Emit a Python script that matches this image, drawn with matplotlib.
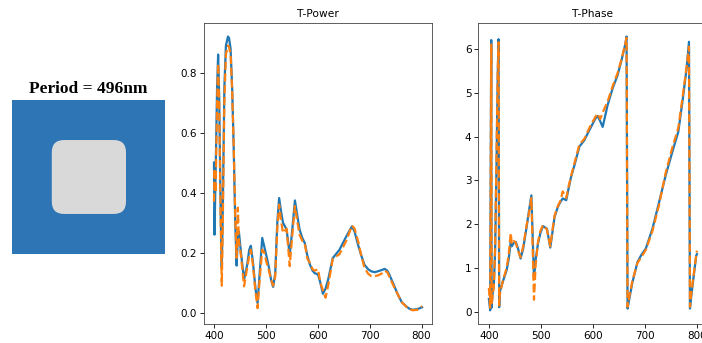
import numpy as np
import matplotlib
matplotlib.use('Agg')
import matplotlib.pyplot as plt
from matplotlib.patches import FancyBboxPatch

# wavelength (nm) / transmission power, blue = target, orange = predicted
power_x = [400, 401, 403, 406, 408, 410, 413, 415, 417, 420, 423, 427, 429, 432, 435, 438, 441,
           443.6, 446, 448, 452, 458, 464, 468, 471, 475, 480, 484, 488, 493, 497, 501, 506, 510,
           514, 518, 522, 525.6, 529, 533, 540, 546, 550, 556, 560, 565, 570, 575, 580, 585, 590,
           594, 600.6, 605, 610, 615, 620, 629, 642, 655, 666, 671, 677.5, 684, 690, 697, 703, 710,
           716, 723, 729, 734, 738, 746, 754.5, 762, 770.5, 777, 783, 792, 801]
power_true = [0.50, 0.26, 0.45, 0.75, 0.86, 0.72, 0.32, 0.15, 0.35, 0.75, 0.89, 0.92, 0.915, 0.88, 0.75,
              0.55, 0.30, 0.157, 0.25, 0.27, 0.20, 0.11, 0.16, 0.21, 0.223, 0.17, 0.08, 0.032, 0.13,
              0.249, 0.22, 0.19, 0.15, 0.11, 0.086, 0.13, 0.30, 0.382, 0.34, 0.30, 0.277, 0.193, 0.26,
              0.374, 0.33, 0.277, 0.25, 0.232, 0.19, 0.16, 0.14, 0.132, 0.127, 0.10, 0.063, 0.08, 0.11,
              0.182, 0.21, 0.254, 0.288, 0.27, 0.227, 0.19, 0.16, 0.145, 0.138, 0.135, 0.138, 0.142,
              0.146, 0.14, 0.127, 0.095, 0.06, 0.035, 0.021, 0.013, 0.01, 0.012, 0.018]
power_pred = [0.37, 0.48, 0.40, 0.70, 0.83, 0.70, 0.30, 0.09, 0.30, 0.70, 0.86, 0.89, 0.885, 0.86,
              0.74, 0.56, 0.32, 0.183, 0.35, 0.24, 0.19, 0.088, 0.15, 0.19, 0.21, 0.16, 0.07, 0.015,
              0.11, 0.21, 0.20, 0.17, 0.14, 0.11, 0.09, 0.12, 0.28, 0.36, 0.31, 0.266, 0.28, 0.155,
              0.24, 0.355, 0.31, 0.26, 0.24, 0.23, 0.18, 0.165, 0.145, 0.14, 0.145, 0.10, 0.075,
              0.05, 0.09, 0.18, 0.195, 0.24, 0.29, 0.28, 0.24, 0.19, 0.15, 0.13, 0.122, 0.122, 0.124,
              0.13, 0.14, 0.135, 0.12, 0.09, 0.06, 0.035, 0.02, 0.012, 0.008, 0.01, 0.022]

# wavelength (nm) / transmission phase (rad)
phase_x = [400, 402.5, 404.5, 405.2, 407, 409.6, 412, 414.7, 417, 418.6, 419.8, 421, 427, 434,
           438, 442, 444, 448, 451.7, 456, 461, 466, 472, 477, 481.7, 486.7, 490, 494.4, 499, 504,
           511.6, 518, 522, 526.3, 532.7, 538, 542, 548.7, 553, 558, 564.6, 574, 583.7, 593.3,
           604.8, 609, 614, 618.8, 628.3, 638, 647.5, 655.8, 662.2, 664.7, 666.6, 670, 676, 685.7,
           693, 701.8, 714.5, 727.3, 740, 752.7, 764.2, 773, 780.2, 784.7, 786.6, 789, 792.3,
           798.7, 800]
phase_true = [0.30, 0.04, 6.20, 0.10, 0.40, 0.65, 1.40, 3.40, 5.40, 6.22, 0.11, 0.46, 0.70, 0.95,
              1.20, 1.60, 1.50, 1.58, 1.60, 1.45, 1.22, 1.45, 1.90, 2.30, 2.66, 0.78, 1.20, 1.56,
              1.80, 1.96, 1.90, 1.47, 1.80, 2.17, 2.40, 2.52, 2.59, 2.55, 2.80, 3.08, 3.35, 3.77,
              3.92, 4.15, 4.41, 4.47, 4.35, 4.22, 4.72, 5.10, 5.40, 5.78, 6.10, 6.28, 0.08, 0.30,
              0.68, 1.14, 1.30, 1.45, 1.90, 2.51, 3.12, 3.65, 4.11, 4.87, 5.56, 6.16, 0.08, 0.35,
              0.68, 1.29, 1.32]
phase_pred = [0.55, 0.10, 6.10, 0.20, 0.35, 0.60, 1.50, 3.60, 5.50, 6.15, 0.15, 0.40, 0.72, 1.00,
              1.30, 1.80, 1.55, 1.62, 1.58, 1.40, 1.25, 1.50, 1.95, 2.25, 2.60, 0.28, 1.10, 1.60,
              1.85, 1.98, 1.88, 1.50, 1.85, 2.20, 2.42, 2.55, 2.75, 2.60, 2.85, 3.10, 3.40, 3.82,
              3.95, 4.20, 4.45, 4.52, 4.40, 4.55, 4.80, 5.15, 5.45, 5.80, 6.12, 6.25, 0.12, 0.35,
              0.72, 1.12, 1.25, 1.42, 1.85, 2.45, 3.18, 3.75, 4.20, 4.95, 5.60, 6.05, 0.12, 0.40,
              0.72, 1.30, 1.40]

period_nm = 496
blue = '#2e75b6'
grey = '#d9d9d9'

fig = plt.figure(figsize=(7.02, 3.43), dpi=100)

# unit cell picture
ax0 = fig.add_axes([0.0171, 0.2595, 0.218, 0.449])
ax0.set_xlim(0, 1)
ax0.set_ylim(0, 1)
ax0.add_patch(plt.Rectangle((0, 0), 1, 1, color=blue))
ax0.add_patch(FancyBboxPatch((0.32, 0.32), 0.365, 0.36,
                             boxstyle='round,pad=0.06,rounding_size=0.08',
                             facecolor=grey, edgecolor='none'))
ax0.axis('off')
ax0.set_title(f'Period = {period_nm}nm', family='Liberation Serif', fontweight='bold',
              fontsize=12.5, pad=5)

ax1 = fig.add_axes([0.290, 0.0554, 0.326, 0.878])
ax1.plot(power_x, power_true, color='C0', lw=1.6)
ax1.plot(power_x, power_pred, color='C1', lw=1.6, ls='--')
ax1.set_title('T-Power', fontsize=7.7, pad=4)
ax1.set_yticks([0.0, 0.2, 0.4, 0.6, 0.8])

ax2 = fig.add_axes([0.6816, 0.0554, 0.326, 0.878])
ax2.plot(phase_x, phase_true, color='C0', lw=1.6)
ax2.plot(phase_x, phase_pred, color='C1', lw=1.6, ls='--')
ax2.set_title('T-Phase', fontsize=7.7, pad=4)
ax2.set_yticks([0, 1, 2, 3, 4, 5, 6])

for ax in (ax1, ax2):
    ax.set_xticks([400, 500, 600, 700, 800])
    ax.tick_params(labelsize=7.5, length=3, width=0.6, pad=2)
    for s in ax.spines.values():
        s.set_linewidth(0.6)
        s.set_color('#444444')

fig.savefig('out.png', dpi=100)
